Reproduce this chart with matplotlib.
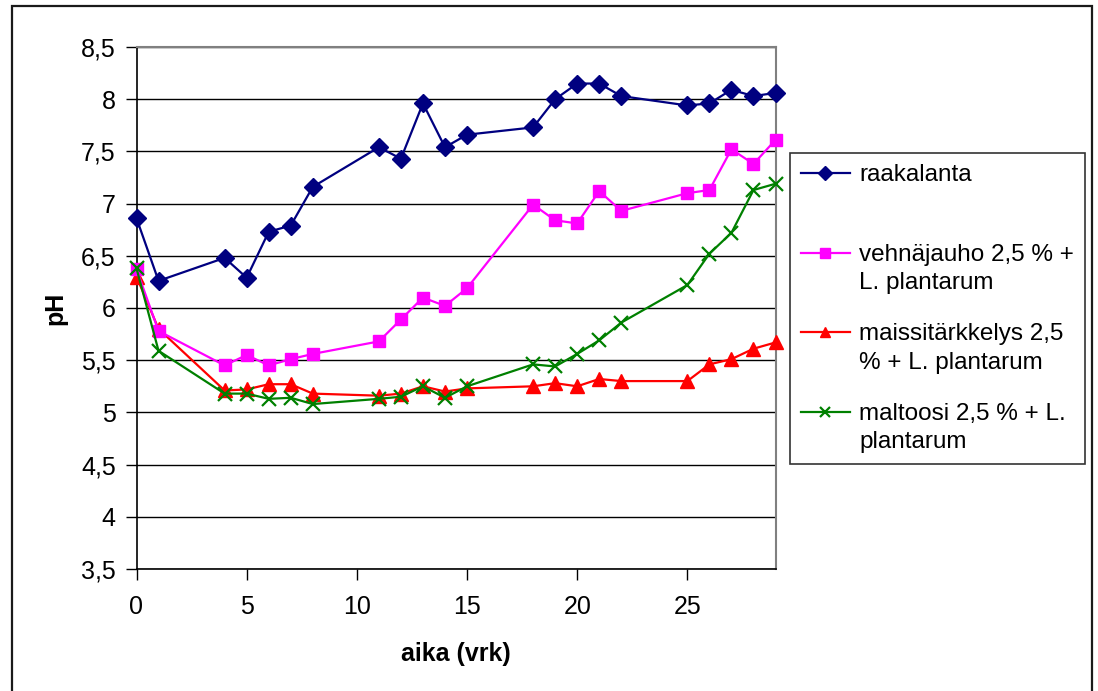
import numpy as np
import matplotlib
matplotlib.use("Agg")
import matplotlib.pyplot as plt
from matplotlib.legend_handler import HandlerLine2D
from matplotlib.patches import Rectangle
from matplotlib.ticker import FuncFormatter, MultipleLocator

plt.rcParams['font.family'] = ['Liberation Sans', 'DejaVu Sans']

# sampling days
days = [0, 1, 4, 5, 6, 7, 8, 11, 12, 13, 14, 15, 18, 19, 20, 21, 22, 25, 26, 27, 28, 29]

# pH readings per treatment
raakalanta = [6.86, 6.26, 6.48, 6.29, 6.73, 6.79, 7.16, 7.54, 7.43, 7.96, 7.54, 7.66,
              7.73, 8.00, 8.15, 8.15, 8.03, 7.94, 7.96, 8.09, 8.03, 8.06]
vehnajauho = [6.37, 5.78, 5.45, 5.55, 5.45, 5.51, 5.56, 5.68, 5.89, 6.10, 6.02, 6.19,
              6.99, 6.84, 6.81, 7.12, 6.93, 7.10, 7.13, 7.52, 7.38, 7.61]
maissi = [6.30, 5.80, 5.21, 5.22, 5.27, 5.27, 5.18, 5.16, 5.18, 5.25, 5.20, 5.23,
          5.25, 5.28, 5.25, 5.32, 5.30, 5.30, 5.46, 5.51, 5.61, 5.67]
maltoosi = [6.38, 5.59, 5.18, 5.18, 5.13, 5.14, 5.08, 5.13, 5.15, 5.25, 5.14, 5.25,
            5.46, 5.44, 5.56, 5.69, 5.86, 6.22, 6.52, 6.72, 7.13, 7.19]

labels = ["raakalanta\n ",
          "vehnäjauho 2,5 % +\nL. plantarum",
          "maissitärkkelys 2,5\n% + L. plantarum",
          "maltoosi 2,5 % + L.\nplantarum"]

FS = 18


# legend handle sits level with the first line of a two-line label
class FirstLineHandler(HandlerLine2D):
    def create_artists(self, legend, orig_handle, xdescent, ydescent,
                       width, height, fontsize, trans):
        arts = super().create_artists(legend, orig_handle, xdescent, ydescent,
                                      width, height, fontsize, trans)
        for a in arts:
            a.set_ydata(np.asarray(a.get_ydata(), dtype=float) + 0.66 * fontsize)
        return arts


fig = plt.figure(figsize=(10.98, 6.91), dpi=100)
ax = fig.add_axes([136.5 / 1098, 1 - 569 / 691, (775.5 - 136.5) / 1098, (569 - 47) / 691])

l1, = ax.plot(days, raakalanta, color="#000080", marker="D", markersize=9, lw=1.6,
              zorder=5, clip_on=False)
l2, = ax.plot(days, vehnajauho, color="#FF00FF", marker="s", markersize=9, lw=1.6,
              zorder=4, clip_on=False)
l3, = ax.plot(days, maissi, color="#FF0000", marker="^", markersize=10, lw=1.6,
              zorder=3, clip_on=False)
l4, = ax.plot(days, maltoosi, color="#008000", marker="x", markersize=10, mew=1.6, lw=1.6,
              zorder=6, clip_on=False)

ax.set_xlim(0, 29)
ax.set_ylim(3.5, 8.5)
ax.yaxis.set_major_locator(MultipleLocator(0.5))
ax.yaxis.set_major_formatter(FuncFormatter(lambda v, p: ("%g" % v).replace(".", ",")))
ax.set_xticks([0, 5, 10, 15, 20, 25])
ax.grid(axis="y", color="black", lw=1)
ax.set_axisbelow(True)

for s in ["top", "right"]:
    ax.spines[s].set_color("#808080")
    ax.spines[s].set_linewidth(1.5)
for s in ["left", "bottom"]:
    ax.spines[s].set_color("black")
    ax.spines[s].set_linewidth(1.2)

ax.tick_params(axis="both", direction="out", length=8, width=1, labelsize=FS, color="black")
ax.tick_params(axis="y", pad=7)
ax.tick_params(axis="x", pad=11)

ax.set_xlabel("aika (vrk)", fontsize=FS, fontweight="bold", labelpad=16)
ax.set_ylabel("pH", fontsize=FS, fontweight="bold", labelpad=10)

leg = fig.legend([l1, l2, l3, l4], labels, loc="upper left",
                 bbox_to_anchor=(790 / 1098, 1 - 153 / 691), borderaxespad=0,
                 frameon=True, fancybox=False, edgecolor="black", fontsize=17.5,
                 handlelength=2.0, handletextpad=0.4, labelspacing=1.2,
                 borderpad=0.45, markerscale=0.75,
                 handler_map={matplotlib.lines.Line2D: FirstLineHandler(numpoints=1)})
leg.get_frame().set_linewidth(1.2)
for t in leg.get_texts():
    t.set_linespacing(1.38)

# chart border
fig.patches.append(Rectangle((12 / 1098, -0.01), (1092 - 12) / 1098, 1.01 - 6 / 691,
                             transform=fig.transFigure, fill=False,
                             edgecolor="#1a1a1a", lw=1.6))

fig.savefig("out.png", dpi=100)
